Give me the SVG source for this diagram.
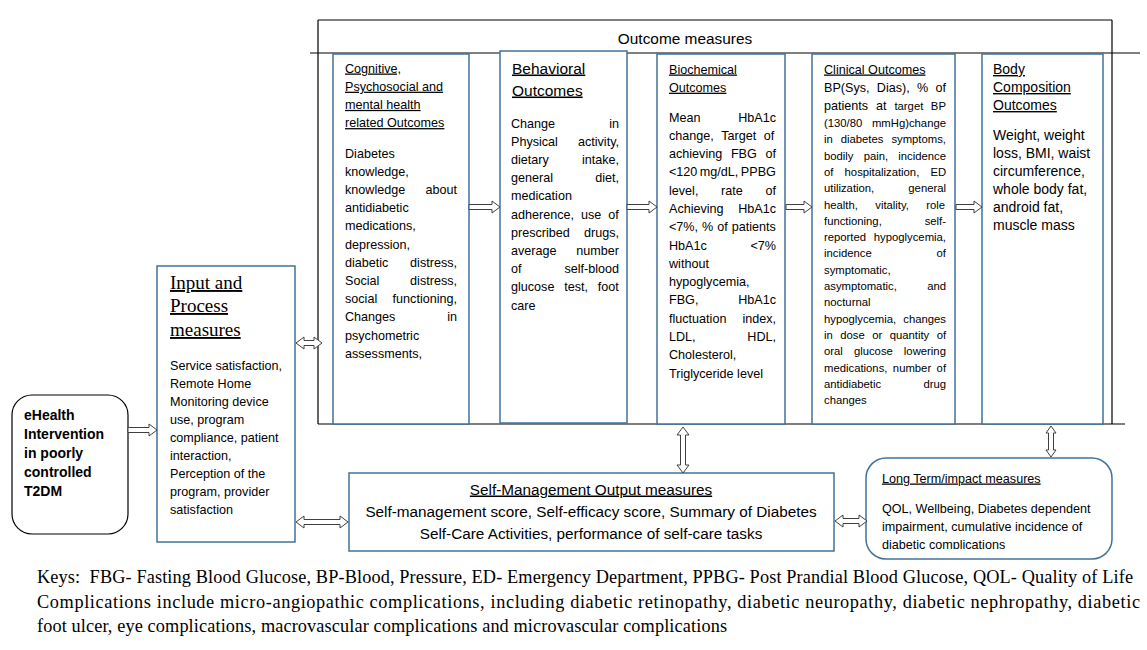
<svg xmlns="http://www.w3.org/2000/svg" width="1147" height="650" viewBox="0 0 1147 650">
<style>
.bx{fill:#fff;stroke:#41719c;stroke-width:1.5}
.rb{fill:#fff;stroke:#000;stroke-width:1.2}
.fr{stroke:#000;stroke-width:1.2;fill:none}
.arr{fill:#fff;stroke:#404040;stroke-width:1}
text{font-family:"Liberation Sans",Arial,sans-serif;font-size:12.6px;fill:#000}
.u{text-decoration:underline}
.e{text-anchor:end}
.m{text-anchor:middle}
.s{font-size:11.3px}
.big{font-size:15.5px}
.bc{font-size:14px}
.tm{font-family:"Liberation Serif","Times New Roman",serif;font-size:19px}
.b{font-weight:bold;font-size:14px}
.sm{font-size:15.3px}
.key{font-family:"Liberation Serif","Times New Roman",serif;font-size:18.3px}
</style>
<defs>
<clipPath id="ltclip"><rect x="860" y="450" width="260" height="99"/></clipPath>
</defs>
<rect width="1147" height="650" fill="#fff"/>

<g id="outcome-frame">
<path class="fr" d="M318 20H1112M318 20V424M1112 20V424M310 53H1140M318 424H1125"/>
<text class="m" x="685" y="43.5" style="font-size:15.4px">Outcome measures</text>
</g>

<g id="cognitive">
<rect class="bx" x="333" y="54" width="136" height="370"/>
<text class="u" x="345" y="72.5">Cognitive,</text>
<text class="u" x="345" y="90.7">Psychosocial and</text>
<text class="u" x="345" y="108.9">mental health</text>
<text class="u" x="345" y="127.1">related Outcomes</text>
<text x="345" y="157.5">Diabetes</text>
<text x="345" y="175.7">knowledge,</text>
<text x="345" y="193.9">knowledge</text><text class="e" x="457" y="193.9">about</text>
<text x="345" y="212.1">antidiabetic</text>
<text x="345" y="230.3">medications,</text>
<text x="345" y="248.5">depression,</text>
<text x="345" y="266.7">diabetic</text><text class="e" x="457" y="266.7">distress,</text>
<text x="345" y="284.9">Social</text><text class="e" x="457" y="284.9">distress,</text>
<text x="345" y="303.1">social</text><text class="e" x="457" y="303.1">functioning,</text>
<text x="345" y="321.3">Changes</text><text class="e" x="457" y="321.3">in</text>
<text x="345" y="339.5">psychometric</text>
<text x="345" y="357.7">assessments,</text>
</g>

<g id="behavioral">
<rect class="bx" x="500" y="51" width="127" height="372"/>
<text class="u big" x="512" y="73.5">Behavioral</text>
<text class="u big" x="512" y="95.5">Outcomes</text>
<text x="511" y="127.5">Change</text><text class="e" x="619" y="127.5">in</text>
<text x="511" y="145.7">Physical</text><text class="e" x="619" y="145.7">activity,</text>
<text x="511" y="163.9">dietary</text><text class="e" x="619" y="163.9">intake,</text>
<text x="511" y="182.1">general</text><text class="e" x="619" y="182.1">diet,</text>
<text x="511" y="200.3">medication</text>
<text x="511" y="218.5" style="word-spacing:3.5px">adherence, use of</text>
<text x="511" y="236.7">prescribed</text><text class="e" x="619" y="236.7">drugs,</text>
<text x="511" y="254.9">average</text><text class="e" x="619" y="254.9">number</text>
<text x="511" y="273.1">of</text><text class="e" x="619" y="273.1">self-blood</text>
<text x="511" y="291.3" style="word-spacing:6.3px">glucose test, foot</text>
<text x="511" y="309.5">care</text>
</g>

<g id="biochemical">
<rect class="bx" x="657" y="54" width="128" height="370"/>
<text class="u" x="669" y="73.5">Biochemical</text>
<text class="u" x="669" y="91.7">Outcomes</text>
<text x="669" y="121.5">Mean</text><text class="e" x="776" y="121.5">HbA1c</text>
<text x="669" y="139.8" style="word-spacing:4.1px">change, Target of</text>
<text x="669" y="158.1" style="word-spacing:5.2px">achieving FBG of</text>
<text x="669" y="176.4" style="word-spacing:-1px">&lt;120 mg/dL, PPBG</text>
<text x="669" y="194.7" style="word-spacing:19.2px">level, rate of</text>
<text x="669" y="212.9">Achieving</text><text class="e" x="776" y="212.9">HbA1c</text>
<text x="669" y="231.2" style="word-spacing:0.5px">&lt;7%, % of patients</text>
<text x="669" y="249.5">HbA1c</text><text class="e" x="776" y="249.5">&lt;7%</text>
<text x="669" y="267.8">without</text>
<text x="669" y="286.1">hypoglycemia,</text>
<text x="669" y="304.4">FBG,</text><text class="e" x="776" y="304.4">HbA1c</text>
<text x="669" y="322.7">fluctuation</text><text class="e" x="776" y="322.7">index,</text>
<text x="669" y="341">LDL,</text><text class="e" x="776" y="341">HDL,</text>
<text x="669" y="359.3">Cholesterol,</text>
<text x="669" y="377.6">Triglyceride level</text>
</g>

<g id="clinical">
<rect class="bx" x="812" y="54" width="143" height="370"/>
<text class="u" x="824" y="73.5">Clinical Outcomes</text>
<text x="824" y="91.5" style="word-spacing:3.8px">BP(Sys, Dias), % of</text>
<text x="824" y="109.5" style="word-spacing:4.4px">patients at <tspan class="s">target BP</tspan></text>
<text class="s" x="824" y="127">(130/80</text><text class="s e" x="946" y="127">mmHg)change</text>
<text class="s" x="824" y="143.3" style="word-spacing:4.8px">in diabetes symptoms,</text>
<text class="s" x="824" y="159.6" style="word-spacing:7px">bodily pain, incidence</text>
<text class="s" x="824" y="175.9" style="word-spacing:8px">of hospitalization, ED</text>
<text class="s" x="824" y="192.2">utilization,</text><text class="s e" x="946" y="192.2">general</text>
<text class="s" x="824" y="208.5" style="word-spacing:14.2px">health, vitality, role</text>
<text class="s" x="824" y="224.8">functioning,</text><text class="s e" x="946" y="224.8">self-</text>
<text class="s" x="824" y="241.1">reported</text><text class="s e" x="946" y="241.1">hypoglycemia,</text>
<text class="s" x="824" y="257.4">incidence</text><text class="s e" x="946" y="257.4">of</text>
<text class="s" x="824" y="273.7">symptomatic,</text>
<text class="s" x="824" y="290">asymptomatic,</text><text class="s e" x="946" y="290">and</text>
<text class="s" x="824" y="306.3">nocturnal</text>
<text class="s" x="824" y="322.6">hypoglycemia,</text><text class="s e" x="946" y="322.6">changes</text>
<text class="s" x="824" y="338.9" style="word-spacing:4.3px">in dose or quantity of</text>
<text class="s" x="824" y="355.2" style="word-spacing:7.9px">oral glucose lowering</text>
<text class="s" x="824" y="371.5" style="word-spacing:2.3px">medications, number of</text>
<text class="s" x="824" y="387.8">antidiabetic</text><text class="s e" x="946" y="387.8">drug</text>
<text class="s" x="824" y="404.1">changes</text>
</g>

<g id="body-composition">
<rect class="bx" x="982" y="54" width="121" height="370"/>
<text class="u bc" x="993" y="74">Body</text>
<text class="u bc" x="993" y="92">Composition</text>
<text class="u bc" x="993" y="110">Outcomes</text>
<text class="bc" x="993" y="140">Weight, weight</text>
<text class="bc" x="993" y="158">loss, BMI, waist</text>
<text class="bc" x="993" y="176">circumference,</text>
<text class="bc" x="993" y="194">whole body fat,</text>
<text class="bc" x="993" y="212">android fat,</text>
<text class="bc" x="993" y="230">muscle mass</text>
</g>

<g id="input-process">
<rect class="bx" x="157" y="266" width="138" height="276"/>
<text class="tm u" x="170" y="289">Input and</text>
<text class="tm u" x="170" y="312">Process</text>
<text class="tm u" x="170" y="336">measures</text>
<text x="170" y="369.5">Service satisfaction,</text>
<text x="170" y="387.5">Remote Home</text>
<text x="170" y="405.5">Monitoring device</text>
<text x="170" y="423.5">use, program</text>
<text x="170" y="441.5">compliance, patient</text>
<text x="170" y="459.5">interaction,</text>
<text x="170" y="477.5">Perception of the</text>
<text x="170" y="495.5">program, provider</text>
<text x="170" y="513.5">satisfaction</text>
</g>

<g id="ehealth">
<rect class="rb" x="12" y="395" width="116" height="139" rx="20"/>
<text class="b" x="24" y="420">eHealth</text>
<text class="b" x="24" y="439">Intervention</text>
<text class="b" x="24" y="458">in poorly</text>
<text class="b" x="24" y="477">controlled</text>
<text class="b" x="24" y="496">T2DM</text>
</g>

<g id="self-management">
<rect class="bx" x="349" y="473" width="485" height="78"/>
<text class="sm m u" x="591" y="494.5">Self-Management Output measures</text>
<text class="sm m" x="591" y="516.5">Self-management score, Self-efficacy score, Summary of Diabetes</text>
<text class="sm m" x="591" y="539">Self-Care Activities, performance of self-care tasks</text>
</g>

<g id="long-term">
<rect class="bx" x="866" y="458" width="246" height="101" rx="20"/>
<g clip-path="url(#ltclip)">
<text class="u" x="882" y="482.5">Long Term/impact measures</text>
<text x="882" y="512.5">QOL, Wellbeing, Diabetes dependent</text>
<text x="882" y="530.5">impairment, cumulative incidence of</text>
<text x="882" y="548.5">diabetic complications</text>
</g>
</g>

<g id="connectors">
<path class="arr" d="M128 427.5L149 427.5L149 424L157 430L149 436L149 432.5L128 432.5Z"/>
<path class="arr" d="M469 204.5L492 204.5L492 201L500 207L492 213L492 209.5L469 209.5Z"/>
<path class="arr" d="M627 204.5L649 204.5L649 201L657 207L649 213L649 209.5L627 209.5Z"/>
<path class="arr" d="M786 204.5L804 204.5L804 201L812 207L804 213L804 209.5L786 209.5Z"/>
<path class="arr" d="M956 204.5L974 204.5L974 201L982 207L974 213L974 209.5L956 209.5Z"/>
<path class="arr" d="M296 343L304 337L304 340.5L314 340.5L314 337L322 343L314 349L314 345.5L304 345.5L304 349Z"/>
<path class="arr" d="M296 522L304 516L304 519.5L340 519.5L340 516L348 522L340 528L340 524.5L304 524.5L304 528Z"/>
<path class="arr" d="M835 521L843 515L843 518.5L859 518.5L859 515L867 521L859 527L859 523.5L843 523.5L843 527Z"/>
<path class="arr" d="M683 427L689 435L685.5 435L685.5 465L689 465L683 473L677 465L680.5 465L680.5 435L677 435Z"/>
<path class="arr" d="M1051 426L1056 433L1053.5 433L1053.5 450L1056 450L1051 457L1046 450L1048.5 450L1048.5 433L1046 433Z"/>
</g>

<g id="keys">
<text class="key" x="37" y="583" textLength="1096" lengthAdjust="spacing" xml:space="preserve">Keys:  FBG- Fasting Blood Glucose, BP-Blood, Pressure, ED- Emergency Department, PPBG- Post Prandial Blood Glucose, QOL- Quality of Life</text>
<text class="key" x="37" y="608" textLength="1103" lengthAdjust="spacing">Complications include micro-angiopathic complications, including diabetic retinopathy, diabetic neuropathy, diabetic nephropathy, diabetic</text>
<text class="key" x="37" y="632" textLength="690" lengthAdjust="spacing">foot ulcer, eye complications, macrovascular complications and microvascular complications</text>
</g>
</svg>
